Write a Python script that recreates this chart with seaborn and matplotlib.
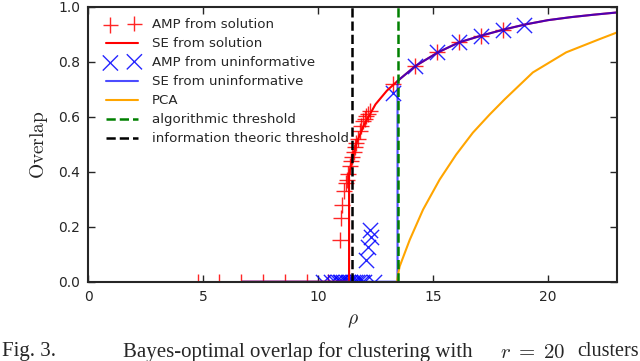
import matplotlib
matplotlib.use("Agg")
import matplotlib.pyplot as plt
import seaborn as sns

# state evolution curves
se_sol_x = [6.7, 11.35, 11.35, 11.5, 11.7, 12.0, 12.5, 13.0, 13.46, 14.25, 15.22, 16.13, 17.07, 18.04, 18.99, 20.0, 21.0, 22.0, 23.0]
se_sol_y = [0.0, 0.0, 0.39, 0.455, 0.51, 0.57, 0.645, 0.695, 0.73, 0.785, 0.834, 0.87, 0.894, 0.916, 0.935, 0.951, 0.962, 0.971, 0.979]
se_uni_x = [6.7, 13.46, 13.46, 14.25, 15.22, 16.13, 17.07, 18.04, 18.99, 20.0, 21.0, 22.0, 23.0]
se_uni_y = [0.0, 0.0, 0.73, 0.785, 0.834, 0.87, 0.894, 0.916, 0.935, 0.951, 0.962, 0.971, 0.979]

# AMP runs
amp_sol_x = [4.77, 5.71, 6.66, 7.61, 8.56, 9.5, 10.45, 10.95, 11.02, 11.06, 11.13, 11.2, 11.25, 11.31, 11.38,
             11.44, 11.48, 11.55, 11.62, 11.67, 11.74, 11.81, 11.89, 11.96, 12.03, 12.1, 12.18, 12.25,
             13.27, 14.24, 15.19, 16.14, 17.09, 18.03]
amp_sol_y = [0, 0, 0, 0, 0, 0, 0, 0.15, 0.23, 0.28, 0.33, 0.36, 0.37, 0.39, 0.42,
             0.44, 0.455, 0.47, 0.49, 0.505, 0.52, 0.547, 0.566, 0.584, 0.59, 0.602, 0.61, 0.62,
             0.718, 0.785, 0.834, 0.87, 0.894, 0.916]
amp_uni_x = [10.2, 10.55, 10.75, 10.85, 10.95, 11.02, 11.1, 11.2, 11.3, 11.4, 11.5, 11.6, 11.7, 11.8, 11.9, 12.0,
             12.07, 12.18, 12.25, 12.32, 12.45, 13.27, 14.24, 15.19, 16.14, 17.09, 18.03, 18.98]
amp_uni_y = [0, 0, 0, 0, 0, 0, 0, 0, 0, 0, 0, 0, 0, 0, 0, 0,
             0.08, 0.125, 0.189, 0.164, 0, 0.688, 0.785, 0.834, 0.87, 0.894, 0.916, 0.935]

# PCA
pca_x = [13.44, 13.48, 13.55, 13.99, 14.57, 15.29, 16.01, 16.74, 17.47, 18.12, 19.35, 20.8, 22.25, 23.0]
pca_y = [0.0, 0.025, 0.055, 0.152, 0.262, 0.371, 0.462, 0.542, 0.608, 0.663, 0.761, 0.834, 0.882, 0.906]

it_threshold = 11.48
alg_threshold = 13.46

sns.set_style("ticks")
plt.rcParams["mathtext.fontset"] = "cm"
plt.rcParams["font.family"] = ["DejaVu Sans"]

fig = plt.figure(figsize=(6.4, 3.61), dpi=100)
ax = fig.add_axes([0.138, 0.2197, 0.8256, 0.7617])

sns.lineplot(x=se_sol_x, y=se_sol_y, sort=False, estimator=None, color="red", lw=1.5, ax=ax, label="SE from solution")
sns.lineplot(x=se_uni_x, y=se_uni_y, sort=False, estimator=None, color="blue", lw=1.5, alpha=0.7, ax=ax,
             label="SE from uninformative")
sns.lineplot(x=pca_x, y=pca_y, sort=False, estimator=None, color="orange", lw=1.5, ax=ax, label="PCA")
ax.axvline(alg_threshold, color="green", ls="--", lw=1.8, label="algorithmic threshold")
ax.axvline(it_threshold, color="black", ls="--", lw=1.8, label="information theoric threshold")
sns.scatterplot(x=amp_sol_x, y=amp_sol_y, marker="+", s=120, color="red", linewidth=1, alpha=0.85, ax=ax,
                label="AMP from solution")
sns.scatterplot(x=amp_uni_x, y=amp_uni_y, marker="x", s=120, color="blue", linewidth=1, alpha=0.85, ax=ax,
                label="AMP from uninformative")

h, l = ax.get_legend_handles_labels()
d = dict(zip(l, h))
order = ["AMP from solution", "SE from solution", "AMP from uninformative", "SE from uninformative",
         "PCA", "algorithmic threshold", "information theoric threshold"]
ax.legend([d[k] for k in order], order, loc="upper left", bbox_to_anchor=(0.014, 0.996), frameon=False,
          fontsize=9.6, scatterpoints=2, handlelength=2.4, labelspacing=0.45, borderaxespad=0.2,
          borderpad=0.6, handletextpad=1.0)

ax.set_xlim(0, 23)
ax.set_ylim(0, 1.0)
ax.set_xticks([0, 5, 10, 15, 20])
ax.set_yticks([0.0, 0.2, 0.4, 0.6, 0.8, 1.0])
ax.tick_params(direction="in", top=True, right=True, length=5, width=1, labelsize=10, pad=6)
for s in ax.spines.values():
    s.set_linewidth(1.5)
    s.set_visible(True)
ax.set_xlabel(r"$\rho$", fontsize=14, labelpad=5)
ax.set_ylabel(r"$\mathrm{Overlap}$", fontsize=14, labelpad=6)

cap_y = 1 - 342 / 361
fig.text(2 / 640, cap_y, "Fig. 3.", fontsize=15, family="Liberation Serif", va="top")
fig.text(123 / 640, cap_y, "Bayes-optimal overlap for clustering with", fontsize=15, family="Liberation Serif", va="top")
fig.text(500 / 640, cap_y, r"$r\;=\;20$", fontsize=15, va="top")
fig.text(639 / 640, cap_y, "clusters", fontsize=14.5, family="Liberation Serif", va="top", ha="right")

fig.savefig("out.png", dpi=100)
